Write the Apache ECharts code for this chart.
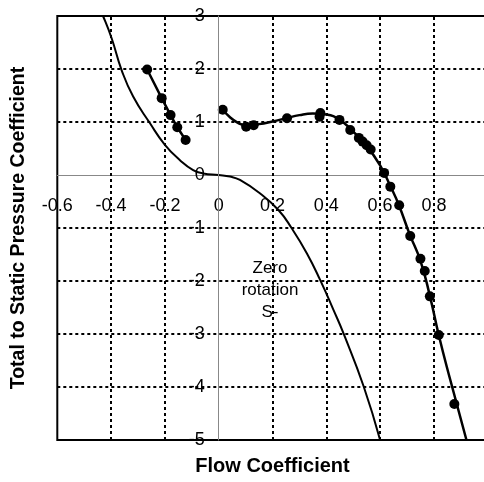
<!DOCTYPE html>
<html>
<head>
<meta charset="utf-8">
<script src="https://cdn.jsdelivr.net/npm/echarts@6/dist/echarts.min.js"></script>
<style>
html, body { margin: 0; padding: 0; background: #fff; }
#main { width: 484px; height: 482px; }
</style>
</head>
<body>
<div id="main"></div>
<script>
// 坐标刻度
var xTicks = [-0.6, -0.4, -0.2, 0, 0.2, 0.4, 0.6, 0.8, 1.0];
var yTicks = [3, 2, 1, 0, -1, -2, -3, -4, -5];
// 虚线网格(0 处是坐标轴)
var xGrid = [-0.4, -0.2, 0.2, 0.4, 0.6, 0.8];
var yGrid = [2, 1, -1, -2, -3, -4];

// 左侧测点 (负流量)
var leftX = [-0.266, -0.212, -0.179, -0.154, -0.123];
var leftY = [1.99, 1.45, 1.13, 0.90, 0.66];

// 右侧测点
var mainX = [0.015, 0.102, 0.130, 0.254, 0.375, 0.378, 0.449, 0.489, 0.521, 0.535, 0.550, 0.565,
	0.615, 0.638, 0.671, 0.712, 0.750, 0.766, 0.785, 0.818, 0.876];
var mainY = [1.23, 0.91, 0.94, 1.07, 1.10, 1.17, 1.04, 0.85, 0.70, 0.63, 0.56, 0.48,
	0.04, -0.22, -0.57, -1.15, -1.58, -1.81, -2.29, -3.02, -4.32];

// 右侧拟合曲线
var fitX = [0.015, 0.04, 0.07, 0.10, 0.15, 0.20, 0.25, 0.30, 0.35, 0.40, 0.45, 0.50, 0.55,
	0.60, 0.64, 0.67, 0.71, 0.75, 0.785, 0.818, 0.86, 0.921];
var fitY = [1.23, 1.10, 0.99, 0.94, 0.96, 1.01, 1.07, 1.13, 1.16, 1.14, 1.04, 0.82, 0.55,
	0.18, -0.23, -0.57, -1.12, -1.62, -2.28, -3.02, -3.85, -5.0];

// 零转速曲线
var zeroX = [-0.44, -0.430, -0.398, -0.361, -0.318, -0.256, -0.200, -0.144, -0.095, -0.057, 0,
	0.042, 0.079, 0.154, 0.222, 0.272, 0.328, 0.377, 0.427, 0.464, 0.539, 0.600];
var zeroY = [3.10, 3.0, 2.58, 1.98, 1.48, 0.98, 0.57, 0.28, 0.094, 0.03, 0,
	-0.03, -0.094, -0.35, -0.66, -1.01, -1.48, -1.98, -2.55, -2.99, -3.99, -5.0];

var zip = function(xs, ys) {
	return xs.map(function(x, i) { return [x, ys[i]]; });
};

var gridLines = [];
xGrid.forEach(function(v) { gridLines.push({ xAxis: v }); });
yGrid.forEach(function(v) { gridLines.push({ yAxis: v }); });

var font = 'Liberation Sans, Arial, Helvetica, sans-serif';

// 图区位置
var gLeft = 57.3, gTop = 16, gWidth = 430.4, gHeight = 424;
// 坐标轴移到 0 处
var yAxisShift = gWidth * (0 - (-0.6)) / (1.0 - (-0.6));
var xAxisShift = gHeight * (0 - (-5)) / (3 - (-5));

var myChart = echarts.init(document.getElementById('main'));

var option = {
	animation : false,
	grid : {
		left : gLeft,
		top : gTop,
		width : gWidth,
		height : gHeight,
		containLabel : false,
		outerBoundsMode : 'none',
		show : true,
		borderColor : '#000',
		borderWidth : 2,
		backgroundColor : 'transparent'
	},
	xAxis : {
		type : 'value',
		min : -0.6,
		max : 1.0,
		interval : 0.2,
		offset : -xAxisShift,
		name : 'Flow Coefficient',
		nameLocation : 'middle',
		nameGap : 281,
		nameTextStyle : { fontFamily : font, fontWeight : 'bold', fontSize : 20, color : '#000' },
		axisLine : { onZero : false, lineStyle : { color : '#888', width : 1 } },
		axisTick : { show : false },
		splitLine : { show : false },
		axisLabel : {
			fontFamily : font, fontSize : 18, color : '#000', margin : 22,
			showMinLabel : true, showMaxLabel : true,
			alignMinLabel : 'center', alignMaxLabel : 'center',
			formatter : function(v) {
				var t = Math.round(v * 10) / 10;
				return xTicks.indexOf(t) >= 0 ? String(t) : '';
			}
		}
	},
	yAxis : {
		type : 'value',
		min : -5,
		max : 3,
		interval : 1,
		offset : -yAxisShift,
		z : 10,
		name : 'Total to Static Pressure Coefficient',
		nameLocation : 'middle',
		nameGap : 190,
		nameTextStyle : { fontFamily : font, fontWeight : 'bold', fontSize : 19.5, color : '#000' },
		axisLine : { onZero : false, lineStyle : { color : '#888', width : 1 } },
		axisTick : { show : false },
		splitLine : { show : false },
		axisLabel : {
			fontFamily : font, fontSize : 18, color : '#000', margin : 14,
			showMinLabel : true, showMaxLabel : true,
			formatter : function(v) {
				return yTicks.indexOf(v) >= 0 ? String(v) : '';
			}
		}
	},
	graphic : [ {
		type : 'text',
		x : 270,
		y : 257,
		style : {
			text : 'Zero\nrotation\nS-',
			fontFamily : font,
			fontSize : 17,
			lineHeight : 22,
			textAlign : 'center',
			fill : '#000'
		}
	} ],
	series : [ {
		name : 'Zero rotation',
		type : 'line',
		data : zip(zeroX, zeroY),
		smooth : 0.5,
		showSymbol : false,
		symbol : 'none',
		lineStyle : { color : '#000', width : 2 },
		z : 3,
		markLine : {
			silent : true,
			symbol : [ 'none', 'none' ],
			label : { show : false },
			lineStyle : { color : '#000', type : [ 3, 3 ], width : 2 },
			emphasis : { disabled : true },
			data : gridLines,
			z : 1
		}
	}, {
		name : 'fit',
		type : 'line',
		data : zip(fitX, fitY),
		smooth : 0.5,
		symbol : 'none',
		lineStyle : { color : '#000', width : 2.5 },
		z : 4
	}, {
		name : 'points',
		type : 'scatter',
		data : zip(mainX, mainY),
		symbol : 'circle',
		symbolSize : 10,
		itemStyle : { color : '#000', opacity : 1 },
		z : 5
	}, {
		name : 'left',
		type : 'line',
		data : zip(leftX, leftY),
		symbol : 'circle',
		symbolSize : 10,
		showAllSymbol : true,
		itemStyle : { color : '#000', opacity : 1 },
		lineStyle : { color : '#000', width : 2.5 },
		z : 5
	} ]
};

myChart.setOption(option);
</script>
</body>
</html>
